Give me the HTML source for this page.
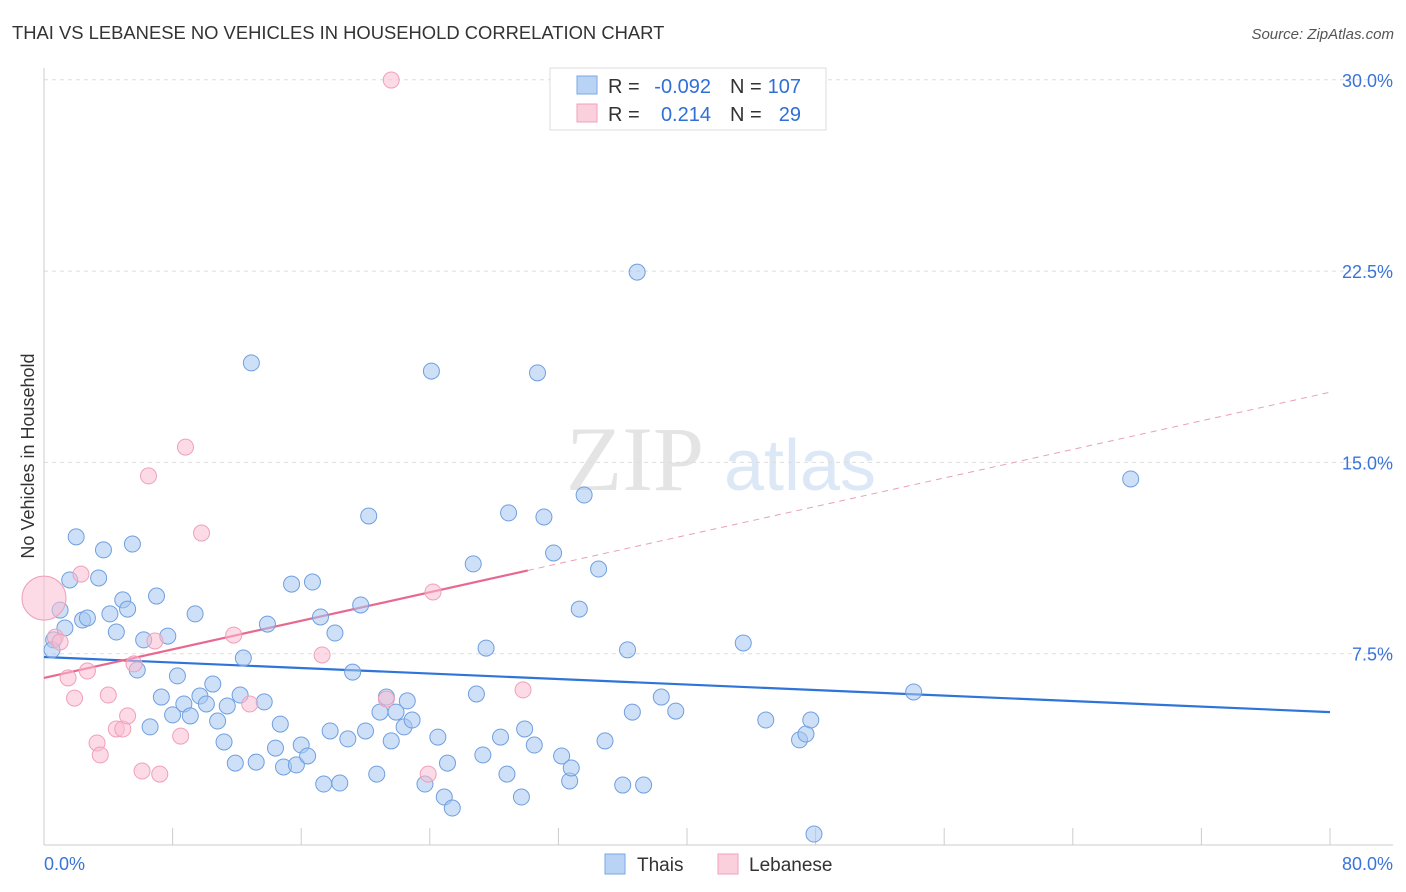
<!DOCTYPE html>
<html><head><meta charset="utf-8"><style>
body{margin:0;background:#fff;font-family:"Liberation Sans",sans-serif;}
#wrap{position:relative;width:1406px;height:892px;overflow:hidden;}
</style></head><body>
<div id="wrap">
<svg id="chart" width="1406" height="892">
<text x="12" y="39" font-size="18.4" fill="#333">THAI VS LEBANESE NO VEHICLES IN HOUSEHOLD CORRELATION CHART</text>
<text x="1394" y="39" font-size="15" fill="#555" text-anchor="end" font-style="italic">Source: ZipAtlas.com</text>
<text x="0" y="0" transform="translate(34,456) rotate(-90)" font-size="18" fill="#333" text-anchor="middle">No Vehicles in Household</text>
<g><text x="635" y="490" font-size="92" fill="#e4e4e4" text-anchor="middle" font-family="Liberation Serif,serif">ZIP</text><text x="800" y="490" font-size="72" fill="#dde8f6" text-anchor="middle">atlas</text></g>
<g id="grid"></g><g id="axes"></g><g id="trend"></g><g id="pts"></g>
<g>
<rect x="550" y="68" width="276" height="62" fill="#fff" stroke="#ddd"/>
<rect x="577" y="76" width="20" height="18" fill="#b9d3f5" stroke="#7aa7e6"/>
<rect x="577" y="104" width="20" height="18" fill="#fbd0dd" stroke="#f0a0b8"/>
<text x="608" y="93" font-size="20" fill="#333">R =</text>
<text x="711" y="93" font-size="20" fill="#2f6fd6" text-anchor="end">-0.092</text>
<text x="730" y="93" font-size="20" fill="#333">N =</text>
<text x="801" y="93" font-size="20" fill="#2f6fd6" text-anchor="end">107</text>
<text x="608" y="121" font-size="20" fill="#333">R =</text>
<text x="711" y="121" font-size="20" fill="#2f6fd6" text-anchor="end">0.214</text>
<text x="730" y="121" font-size="20" fill="#333">N =</text>
<text x="801" y="121" font-size="20" fill="#2f6fd6" text-anchor="end">29</text>
</g>
<g>
<rect x="605" y="854" width="20" height="20" fill="#b9d3f5" stroke="#7aa7e6"/>
<text x="637" y="871" font-size="19" fill="#333">Thais</text>
<rect x="718" y="854" width="20" height="20" fill="#fbd0dd" stroke="#f0a0b8"/>
<text x="749" y="871" font-size="19" fill="#333">Lebanese</text>
</g>
</svg></div>
<script>
const blueX=[0.6,0.5,1.0,1.3,1.6,2.0,2.4,2.7,3.4,3.7,4.1,4.5,4.9,5.2,5.5,5.8,6.2,6.6,7.0,7.3,7.7,8.0,8.3,8.7,9.1,9.4,9.7,10.1,10.5,10.8,11.2,11.4,11.9,12.2,12.4,12.9,13.2,13.7,13.9,14.4,14.7,14.9,15.4,15.7,16.0,16.4,16.7,17.2,17.8,18.1,18.4,17.4,18.9,19.2,19.7,20.0,20.2,20.7,20.9,21.3,21.6,21.9,22.4,22.6,22.9,23.7,24.1,24.5,24.9,25.1,25.4,26.7,26.9,27.3,27.5,28.4,28.8,28.9,29.7,29.9,30.5,30.7,31.1,31.7,32.2,32.7,32.8,33.3,33.6,34.5,34.9,36.0,36.3,36.6,36.9,37.3,38.4,39.3,43.5,44.9,47.0,47.4,47.7,47.9,54.1,67.6];
const blueY=[8.04,7.65,9.21,8.51,10.39,12.08,8.82,8.90,10.47,11.57,9.06,8.35,9.61,9.25,11.80,6.86,8.04,4.63,9.76,5.80,8.19,5.10,6.63,5.53,5.06,9.06,5.84,5.53,6.31,4.86,4.04,5.45,3.21,5.88,7.33,18.90,3.25,5.61,8.66,3.80,4.74,3.06,10.23,3.14,3.92,3.49,10.31,8.94,4.47,8.31,2.43,2.39,4.16,6.78,9.41,4.47,12.90,2.78,5.21,5.80,4.08,5.21,4.63,5.65,4.90,2.39,18.58,4.23,1.88,3.21,1.45,11.02,5.92,3.53,7.72,4.23,2.78,13.02,1.88,4.55,3.92,18.51,12.86,11.45,3.49,2.51,3.02,9.25,13.72,10.82,4.08,2.35,7.65,5.21,22.46,2.35,5.80,5.25,7.92,4.90,4.12,4.35,4.90,0.43,6.00,14.35];
const pinkX=[0.0,0.7,1.0,1.5,1.9,2.3,2.7,3.3,3.5,4.0,4.5,4.9,5.2,5.6,6.1,6.5,6.9,7.2,8.5,8.8,9.8,11.8,12.8,17.3,21.3,21.6,23.9,24.2,29.8];
const pinkY=[9.68,8.15,7.96,6.55,5.76,10.62,6.82,4.00,3.53,5.88,4.55,4.55,5.06,7.10,2.90,14.47,8.00,2.78,4.27,15.60,12.23,8.23,5.53,7.45,5.72,29.99,2.78,9.92,6.08];
const blueTrend=[7.37,5.21];
const pinkTrend=[6.55,17.75];
const yTicks=[7.5,15.0,22.5,30.0];
const yTickLabels=["7.5%","15.0%","22.5%","30.0%"];
const xTicks=[0,8,16,24,32,40,48,56,64,72,80];
const NS="http://www.w3.org/2000/svg";
const X=v=>44+v/80*1286, Y=v=>845-v/7.5*191.3;
function mk(tag,attrs,parent){const e=document.createElementNS(NS,tag);for(const k in attrs)e.setAttribute(k,attrs[k]);document.getElementById(parent).appendChild(e);return e;}
yTicks.forEach((t,i)=>{
 const l=mk('line',{x1:44,x2:1393,y1:Y(t),y2:Y(t),stroke:'#ddd','stroke-dasharray':'4,4'},'grid');
 
 
 const tx=mk('text',{x:1393,y:Y(t)+7,'font-size':18,fill:'#3b74d8','text-anchor':'end'},'grid');
 tx.textContent=yTickLabels[i];
 
 
});
let a=mk('line',{x1:44,x2:44,y1:68,y2:845,stroke:'#ccc'},'axes');


a=mk('line',{x1:44,x2:1393,y1:845,y2:845,stroke:'#ccc'},'axes');


xTicks.forEach(t=>{const l=mk('line',{x1:X(t),x2:X(t),y1:828,y2:845,stroke:'#ccc'},'axes');
 
 });
let t0=mk('text',{x:44,y:870,'font-size':18,fill:'#3b74d8'},'axes');t0.textContent='0.0%';


let t1=mk('text',{x:1393,y:870,'font-size':18,fill:'#3b74d8','text-anchor':'end'},'axes');t1.textContent='80.0%';


let bl=mk('line',{x1:X(0),y1:Y(blueTrend[0]),x2:X(80),y2:Y(blueTrend[1]),stroke:'#2f74d8','stroke-width':2.2},'trend');


const pAt=x=>pinkTrend[0]+(pinkTrend[1]-pinkTrend[0])*x/80;
let pl=mk('line',{x1:X(0),y1:Y(pAt(0)),x2:X(30.1),y2:Y(pAt(30.1)),stroke:'#e8688f','stroke-width':2.2},'trend');


let pd=mk('line',{x1:X(30.1),y1:Y(pAt(30.1)),x2:X(80),y2:Y(pAt(80)),stroke:'#e8a0b6','stroke-width':1,'stroke-dasharray':'6,5'},'trend');


blueX.forEach((x,i)=>{const c=mk('circle',{cx:X(x),cy:Y(blueY[i]),r:8,fill:'rgba(165,198,240,0.55)',stroke:'#6f9fe0','stroke-width':1},'pts');
 
 });
pinkX.forEach((x,i)=>{const c=mk('circle',{cx:X(x),cy:Y(pinkY[i]),r:i==0?22:8,fill:'rgba(250,190,210,0.55)',stroke:'#f0a0b8','stroke-width':1},'pts');
 
 });
</script>
</body></html>
